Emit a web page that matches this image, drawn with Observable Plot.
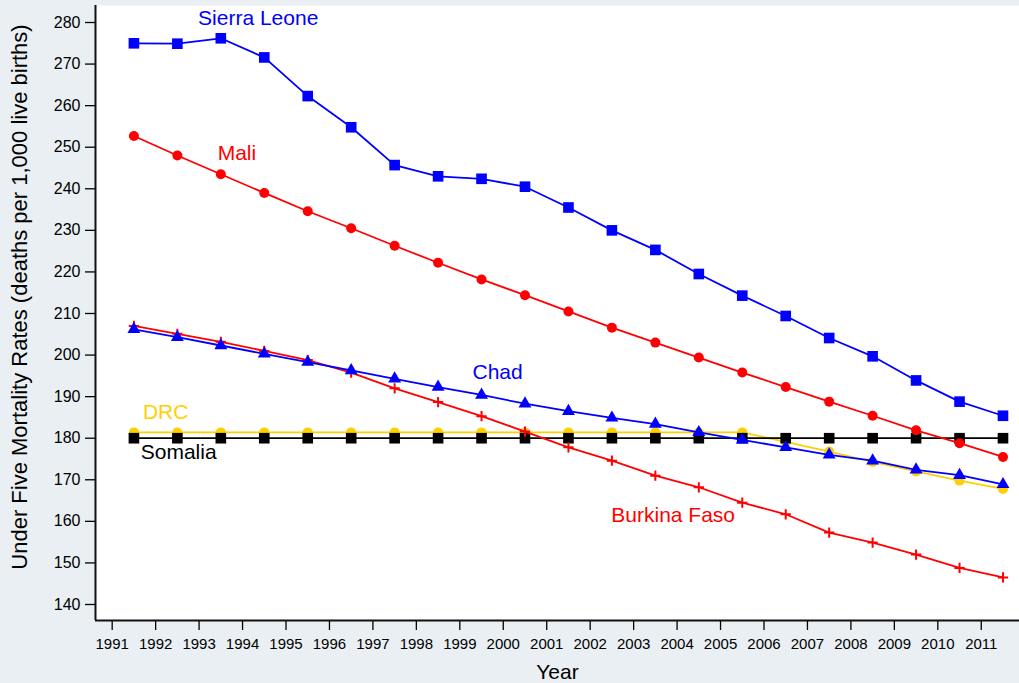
<!DOCTYPE html>
<html>
<head>
<meta charset="utf-8">
<script src="https://cdn.jsdelivr.net/npm/d3@7"></script>
<script src="https://cdn.jsdelivr.net/npm/@observablehq/plot@0.6"></script>
<style>
  html, body { margin: 0; padding: 0; background: #e9eff2; }
  #chart { width: 1019px; height: 683px; }
  svg { display: block; }
</style>
</head>
<body>
<div id="chart"></div>
<script>
// ---- data ----
const midYears = [1991.5, 1992.5, 1993.5, 1994.5, 1995.5, 1996.5, 1997.5, 1998.5, 1999.5, 2000.5,
                  2001.5, 2002.5, 2003.5, 2004.5, 2005.5, 2006.5, 2007.5, 2008.5, 2009.5, 2010.5, 2011.5];
const sierraLeone = [275.0, 274.9, 276.2, 271.6, 262.3, 254.8, 245.7, 243.0, 242.4, 240.5, 235.5,
                     230.0, 225.3, 219.5, 214.3, 209.4, 204.1, 199.7, 193.9, 188.8, 185.4];
const mali = [252.7, 248.0, 243.5, 239.0, 234.6, 230.5, 226.3, 222.2, 218.2, 214.4, 210.5,
              206.6, 203.0, 199.4, 195.8, 192.3, 188.8, 185.4, 181.9, 178.8, 175.5];
const chad = [206.2, 204.3, 202.3, 200.3, 198.3, 196.3, 194.3, 192.3, 190.4, 188.3, 186.5,
              184.9, 183.4, 181.4, 179.6, 177.8, 176.0, 174.6, 172.4, 171.1, 168.9];
const burkinaFaso = [207.0, 205.1, 203.2, 201.0, 198.8, 195.8, 192.0, 188.7, 185.3, 181.6, 177.8,
                     174.6, 171.0, 168.2, 164.5, 161.7, 157.3, 154.9, 152.0, 148.8, 146.5];
const drc = [181.4, 181.4, 181.4, 181.4, 181.4, 181.4, 181.4, 181.4, 181.4, 181.4, 181.4,
             181.4, 181.4, 181.4, 181.4, 179.1, 176.8, 174.3, 172.0, 169.8, 167.8];
const somalia = [180.0, 180.0, 180.0, 180.0, 180.0, 180.0, 180.0, 180.0, 180.0, 180.0, 180.0,
                 180.0, 180.0, 180.0, 180.0, 180.0, 180.0, 180.0, 180.0, 180.0, 180.0];

const yearTicks = [1991, 1992, 1993, 1994, 1995, 1996, 1997, 1998, 1999, 2000, 2001,
                   2002, 2003, 2004, 2005, 2006, 2007, 2008, 2009, 2010, 2011];
const valueTicks = [140, 150, 160, 170, 180, 190, 200, 210, 220, 230, 240, 250, 260, 270, 280];

const countryNames = ["Sierra Leone", "Mali", "Chad", "DRC", "Somalia", "Burkina Faso"];
const labelYears  = [1994.36, 1993.87, 1999.87, 1992.23, 1992.53, 2003.91];
const labelValues = [280.9, 248.6, 195.8, 186.2, 176.6, 161.5];

const xDomain = [1990.616, 2011.88];
const yDomain = [136.15, 284.09];

// ---- styles ----
const BLUE = "#0000ff", RED = "#ff0000", GOLD = "#ffcf00", BLACK = "#000000";
const seriesStyle = {
  "Sierra Leone": {values: sierraLeone, color: BLUE, symbol: "square", r: 6.0},
  "Mali": {values: mali, color: RED, symbol: "circle", r: 5.0},
  "Chad": {values: chad, color: BLUE, symbol: "triangle", r: 4.8},
  "DRC": {values: drc, color: GOLD, symbol: "circle", r: 5.0},
  "Somalia": {values: somalia, color: BLACK, symbol: "square", r: 6.0},
  "Burkina Faso": {values: burkinaFaso, color: RED, symbol: "plus", r: 3.4}
};
const drawOrder = ["DRC", "Somalia", "Burkina Faso", "Mali", "Chad", "Sierra Leone"];

const seriesMarks = [];
for (const name of drawOrder) {
  const s = seriesStyle[name];
  const rows = midYears.map((yr, i) => ({year: yr, value: s.values[i]}));
  seriesMarks.push(Plot.line(rows, {x: "year", y: "value", stroke: s.color, strokeWidth: 1.8}));
  if (s.symbol === "plus") {
    seriesMarks.push(Plot.dot(rows, {x: "year", y: "value", symbol: "plus", r: s.r, stroke: s.color, strokeWidth: 2}));
  } else {
    seriesMarks.push(Plot.dot(rows, {x: "year", y: "value", symbol: s.symbol, r: s.r, fill: s.color, stroke: "none"}));
  }
}

const labelRows = countryNames.map((n, i) => ({name: n, year: labelYears[i], value: labelValues[i], color: seriesStyle[n].color}));

const FONT = "'Liberation Sans', Helvetica, Arial, sans-serif";

const chart = Plot.plot({
  width: 1019,
  height: 683,
  marginLeft: 95,
  marginRight: 0,
  marginTop: 5,
  marginBottom: 63,
  style: {background: "transparent", fontFamily: FONT, fontSize: "16px", color: "#000"},
  x: {domain: xDomain, label: null},
  y: {domain: yDomain, label: null},
  marks: [
    Plot.frame({fill: "white", stroke: "none"}),
    Plot.axisX(yearTicks, {tickSize: 10, tickPadding: 8, tickFormat: d => String(d), label: null, fontSize: 15, strokeWidth: 1.3}),
    Plot.axisY(valueTicks, {tickSize: 10, tickPadding: 5, label: null, fontSize: 16, strokeWidth: 1.3}),
    Plot.ruleX([xDomain[0]], {stroke: "#111", strokeWidth: 2}),
    Plot.ruleY([yDomain[0]], {stroke: "#111", strokeWidth: 2}),
    ...seriesMarks,
    Plot.text(labelRows, {x: "year", y: "value", text: "name", fill: d => d.color, fontSize: 21}),
    Plot.text(["Year"], {frameAnchor: "bottom", dy: 58, fontSize: 21, fill: "#000"}),
    Plot.text(["Under Five Mortality Rates (deaths per 1,000 live births)"],
              {frameAnchor: "left", textAnchor: "middle", rotate: -90, dx: -76, dy: -16, fontSize: 22, fill: "#000"})
  ]
});
document.getElementById("chart").appendChild(chart);
</script>
</body>
</html>
